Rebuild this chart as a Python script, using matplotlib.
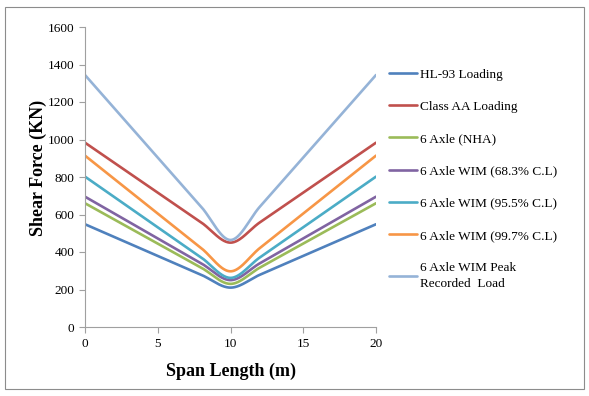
import numpy as np
import matplotlib
matplotlib.use("Agg")
import matplotlib.pyplot as plt
from matplotlib.patches import Rectangle

span = [0, 8, 10, 12, 20]
hl93 = [548, 278, 210, 278, 548]
class_aa = [983, 557, 450, 557, 983]
nha = [660, 316, 230, 316, 660]
wim683 = [695, 339, 250, 339, 695]
wim955 = [802, 370, 262, 370, 802]
wim997 = [914, 420, 297, 420, 914]
wim_peak = [1344, 640, 464, 640, 1344]

labels = ["HL-93 Loading", "Class AA Loading", "6 Axle (NHA)",
          "6 Axle WIM (68.3% C.L)", "6 Axle WIM (95.5% C.L)",
          "6 Axle WIM (99.7% C.L)", "6 Axle WIM Peak\nRecorded  Load"]
series = [hl93, class_aa, nha, wim683, wim955, wim997, wim_peak]
colors = ["#4F81BD", "#C0504D", "#9BBB59", "#8064A2", "#4BACC6", "#F79646", "#95B3D7"]


def smooth(xs, ys, n=60):
    # smoothed line through the points (cardinal Hermite spline in x)
    x = np.asarray(xs, float)
    y = np.asarray(ys, float)
    m = np.empty_like(y)
    m[0] = (y[1] - y[0]) / (x[1] - x[0])
    m[-1] = (y[-1] - y[-2]) / (x[-1] - x[-2])
    m[1:-1] = (y[2:] - y[:-2]) / (x[2:] - x[:-2])
    ox, oy = [], []
    for i in range(len(x) - 1):
        h = x[i + 1] - x[i]
        t = np.linspace(0, 1, n)
        h00 = 2 * t**3 - 3 * t**2 + 1
        h10 = t**3 - 2 * t**2 + t
        h01 = -2 * t**3 + 3 * t**2
        h11 = t**3 - t**2
        seg = h00 * y[i] + h10 * h * m[i] + h01 * y[i + 1] + h11 * h * m[i + 1]
        sl = slice(0 if i == 0 else 1, None)
        ox.append((x[i] + t * h)[sl])
        oy.append(seg[sl])
    return np.concatenate(ox), np.concatenate(oy)


plt.rcParams['font.family'] = ['Liberation Serif', 'DejaVu Serif']
fig = plt.figure(figsize=(5.89, 3.96), dpi=100)
W, H = 589, 396
ax = fig.add_axes([85 / W, 1 - 327 / H, (376 - 85) / W, (327 - 27) / H])

for ys, lab, c in zip(series, labels, colors):
    sx, sy = smooth(span, ys)
    ax.plot(sx, sy, color=c, lw=1.9, label=lab, solid_capstyle='round')

ax.set_xlim(0, 20)
ax.set_ylim(0, 1600)
ax.set_xticks([0, 5, 10, 15, 20])
ax.set_yticks(range(0, 1601, 200))
for s in ['top', 'right']:
    ax.spines[s].set_visible(False)
for s in ['left', 'bottom']:
    ax.spines[s].set_color('#A0A0A0')
    ax.spines[s].set_linewidth(0.8)
ax.tick_params(axis='both', colors='#A0A0A0', labelcolor='black', labelsize=9.5,
               length=4, width=0.8, direction='out')
ax.tick_params(axis='x', pad=4)
ax.set_xlabel("Span Length (m)", fontsize=13, fontweight='bold', labelpad=9)
ax.set_ylabel("Shear Force (KN)", fontsize=13, fontweight='bold')
ax.yaxis.set_label_coords(-0.13, 0.53)

leg = fig.legend(loc='upper left', bbox_to_anchor=(384 / W, 1 - 63 / H), frameon=False,
                 fontsize=9.5, handlelength=2.1, handletextpad=0.25, labelspacing=1.52,
                 borderaxespad=0)
leg.get_texts()[-1].set_linespacing(1.45)

fig.patches.append(Rectangle((5 / W, 1 - 389 / H), (584 - 5) / W, (389 - 7) / H,
                             transform=fig.transFigure, fill=False, edgecolor='#8C8C8C', lw=0.8))

fig.savefig("out.png", dpi=100)
